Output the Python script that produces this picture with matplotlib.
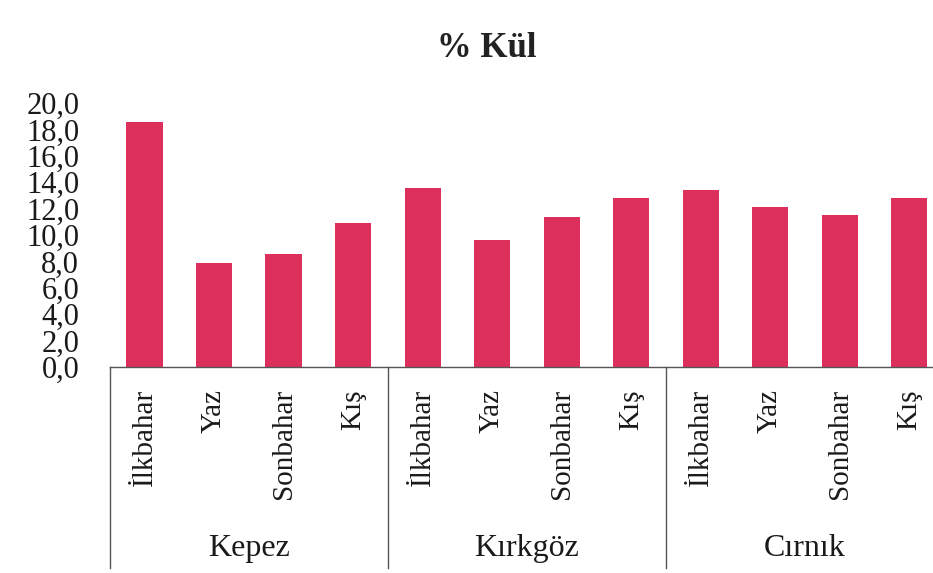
import numpy as np
import matplotlib
matplotlib.use("Agg")
import matplotlib.pyplot as plt
import matplotlib.transforms as mtransforms

plt.rcParams['font.family'] = ['Liberation Serif', 'DejaVu Serif']

# ash content per site and season
groups = ["Kepez", "Kırkgöz", "Cırnık"]
seasons = ["İlkbahar", "Yaz", "Sonbahar", "Kış"]
values = [18.6, 7.9, 8.6, 10.9,
          13.6, 9.6, 11.4, 12.8,
          13.4, 12.1, 11.5, 12.8]
yticks = np.arange(0, 20.1, 2.0)

bar_color = "#DC2F5C"
text_color = "#1a1a1a"

fig = plt.figure(figsize=(9.33, 5.73), dpi=100)
ax = fig.add_axes([0.1176, 0.3595, 0.8942, 0.4605])

x = np.arange(len(values))
ax.bar(x, values, width=0.52, color=bar_color)

ax.set_xlim(-0.5, len(values) - 0.5)
ax.set_ylim(0, 20)
ax.set_yticks(yticks)
ax.set_yticklabels([f"{v:.1f}".replace(".", ",") for v in yticks],
                   fontsize=22, color=text_color)
ax.tick_params(axis="y", length=0, pad=22)

ax.set_xticks(x)
ax.set_xticklabels(seasons * len(groups), rotation=90, fontsize=21,
                   va="top", color=text_color)
ax.tick_params(axis="x", length=0, pad=16)

for s in ["top", "right", "left"]:
    ax.spines[s].set_visible(False)
ax.spines["bottom"].set_color("#555555")
ax.spines["bottom"].set_linewidth(1.0)

trans = mtransforms.blended_transform_factory(ax.transData, ax.transAxes)
n = len(seasons)
for i, g in enumerate(groups):
    left = i * n - 0.5
    ax.plot([left, left], [0, -0.762], transform=trans, color="#555555",
            lw=1.0, clip_on=False)
    ax.text(left + n / 2, -0.686, g, transform=trans, ha="center",
            va="center", fontsize=23, color=text_color)

fig.text(0.522, 0.915, "% Kül", ha="center", va="center", fontsize=25,
         fontweight="bold", color="#222222")

fig.savefig("out.png", dpi=100)
